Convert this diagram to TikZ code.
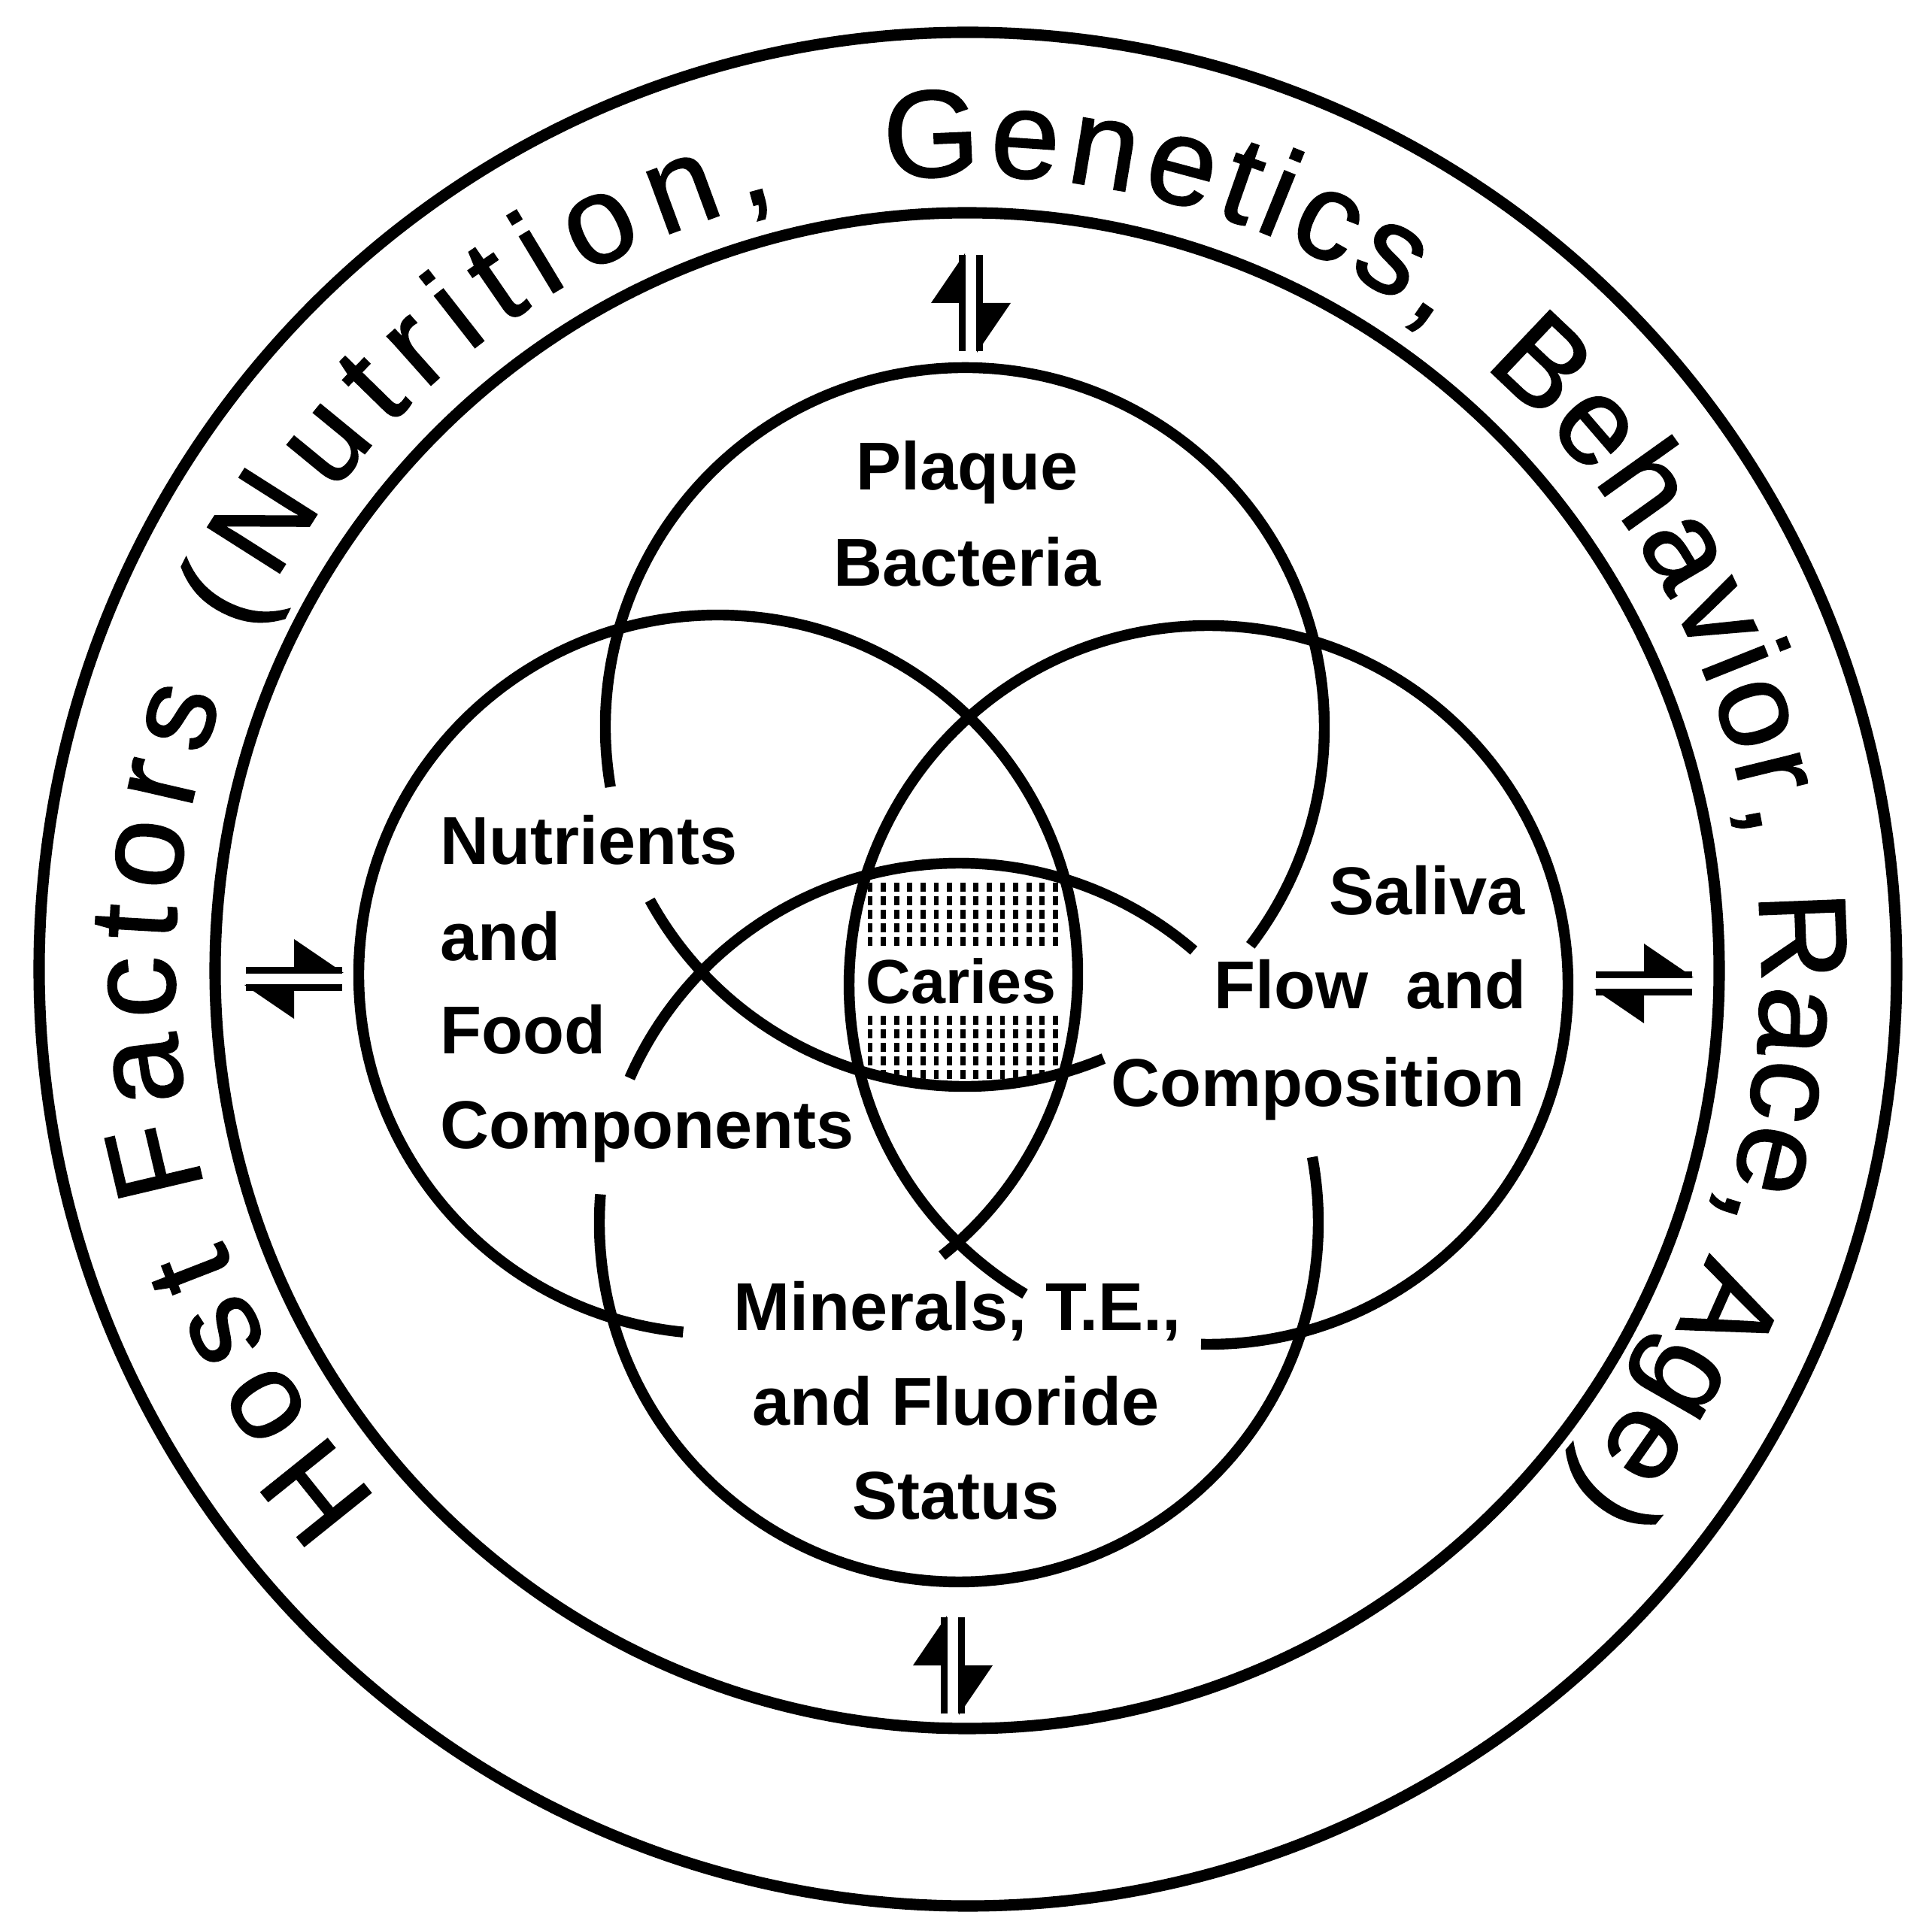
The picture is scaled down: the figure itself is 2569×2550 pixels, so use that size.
\documentclass[tikz,border=0pt]{standalone}
\usepackage{fontspec}
\setmainfont{Liberation Sans}
\usetikzlibrary{decorations.text}
\newfontfamily\ringfam[FakeBold=1.2]{Liberation Sans}
\newcommand\ringfont{\ringfam\fontsize{46.9pt}{56pt}\selectfont}
\newcommand\venfont{\bfseries\fontsize{25.6pt}{35.6pt}\selectfont}
\newcommand\cariesfont{\bfseries\fontsize{23.5pt}{30pt}\selectfont}
\tikzset{
  ringline/.style={line width=4.3pt},
  vennline/.style={line width=4.1pt},
  lbl/.style={inner sep=0pt,font=\venfont},
  harp/.style={line width=2.3pt},
  dotcell/.style={fill=black},
  eqpair/.pic={
    \draw[harp] (-64,11.5) -- (64,11.5);
    \fill (0,8) -- (0,53) -- (66,8) -- cycle;
    \draw[harp] (-64,-11.5) -- (64,-11.5);
    \fill (0,-8) -- (0,-53) -- (-66,-8) -- cycle;
  }
}
\begin{document}
\begin{tikzpicture}[x=0.01cm,y=0.01cm]
\useasboundingbox (0,0) rectangle (2569,2550);
\fill[white] (0,0) rectangle (2569,2550);

% centres
\coordinate (O) at (1287,1261);
\coordinate (Oi) at (1286,1259);
\coordinate (P) at (1283,1583);
\coordinate (N) at (955,1254);
\coordinate (S) at (1607,1240);
\coordinate (M) at (1275,924);

% outer rings
\draw[ringline] (O) ellipse[x radius=1235, y radius=1246];
\draw[ringline] (Oi) ellipse[x radius=1000, y radius=1008];

% caries hatching
\begin{scope}
  \clip (P) circle[radius=471];
  \clip (N) circle[radius=471];
  \clip (S) circle[radius=471];
  \clip (M) circle[radius=471];
  \foreach \i in {0,...,14}{
    \foreach \yc in {1370,1352,1334,1316,1298,1193,1175,1157,1139,1121}{
      \fill[dotcell] (1157+17.6*\i-3.4,\yc-5.8) rectangle (1157+17.6*\i+3.4,\yc+5.8);
    }
  }
\end{scope}

% Venn circles (with gaps for the labels)
\draw[vennline] (P) ++(189.6:478) arc[start angle=189.6, end angle=-37.4, radius=478];
\draw[vennline] (P) ++(208.8:478) arc[start angle=208.8, end angle=292.7, radius=478];
\draw[vennline] (N) ++(264.4:478) arc[start angle=264.4, end angle=-51.5, radius=478];
\draw[vennline] (S) ++(-91.2:478) arc[start angle=-91.2, end angle=239.3, radius=478];
\draw[vennline] (M) ++(156.3:478) arc[start angle=156.3, end angle=49.2, radius=478];
\draw[vennline] (M) ++(175.5:478) arc[start angle=175.5, end angle=370.5, radius=478];

% ring text
\path[decorate, decoration={text along path, text={|\ringfont|Host}, text align={fit to path}}]
  (O) ++(222:1055) arc[start angle=222, end angle=200, radius=1055];
\path[decorate, decoration={text along path, text={|\ringfont|Factors}, text align={fit to path}}]
  (O) ++(196:1055) arc[start angle=196, end angle=160, radius=1055];
\path[decorate, decoration={text along path, text={|\ringfont|(Nutrition,}, text align={fit to path}}]
  (O) ++(155:1055) arc[start angle=155, end angle=104, radius=1055];
\path[decorate, decoration={text along path, text={|\ringfont|Genetics,}, text align={fit to path}}]
  (O) ++(96:1055) arc[start angle=96, end angle=54, radius=1055];
\path[decorate, decoration={text along path, text={|\ringfont|Behavior,}, text align={fit to path}}]
  (O) ++(49.5:1055) arc[start angle=49.5, end angle=9.5, radius=1055];
\path[decorate, decoration={text along path, text={|\ringfont|Race,}, text align={fit to path}}]
  (O) ++(5.5:1055) arc[start angle=5.5, end angle=-18.5, radius=1055];
\path[decorate, decoration={text along path, text={|\ringfont|Age)}, text align={fit to path}}]
  (O) ++(-21:1055) arc[start angle=-21, end angle=-41, radius=1055];

% equilibrium arrows
\pic[rotate=90] at (1291,2147) {eqpair};
\pic[rotate=90] at (1267,335) {eqpair};
\pic at (391,1248) {eqpair};
\pic at (2186,1242) {eqpair};

% labels
\node[lbl, anchor=base] (plaque1) at (1286,1898) {Plaque};
\node[lbl, anchor=base] (plaque2) at (1286,1770) {Bacteria};
\node[lbl, anchor=base west] (nutr1) at (585,1400) {Nutrients};
\node[lbl, anchor=base west] (nutr2) at (585,1272) {and};
\node[lbl, anchor=base west] (nutr3) at (585,1148) {Food};
\node[lbl, anchor=base west] (nutr4) at (585,1022) {Components};
\node[lbl, anchor=base east] (sal1) at (2028,1333) {Saliva};
\node[lbl, anchor=base east] (sal2) at (2030,1208) {Flow\ \ and};
\node[lbl, anchor=base east] (sal3) at (2028,1078) {Composition};
\node[lbl, anchor=base] (min1) at (1273,781) {Minerals, T.E.,};
\node[lbl, anchor=base] (min2) at (1271,655) {and Fluoride};
\node[lbl, anchor=base] (min3) at (1271,530) {Status};
\node[inner sep=0pt, font=\cariesfont, anchor=base] (caries) at (1278,1215) {Caries};
\end{tikzpicture}
\end{document}
